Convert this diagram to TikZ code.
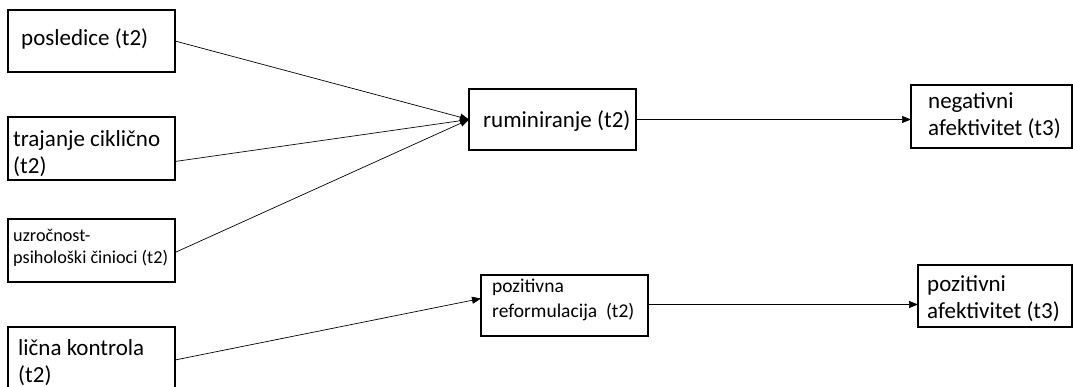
\documentclass[tikz,border=0pt]{standalone}
\usepackage{fontspec}
\setmainfont{Carlito}
\usetikzlibrary{arrows.meta}

\begin{document}
\begin{tikzpicture}[x=1pt,y=-1pt,
		box/.style={draw,line width=1.3pt,anchor=north west,inner sep=0pt,outer sep=0pt},
		lbl/.style={anchor=base west,inner sep=0pt,align=left,font=\fontsize{23}{27}\selectfont},
		small/.style={lbl,font=\fontsize{18.2}{22}\selectfont},
		arr/.style={-{Triangle[length=9pt,width=7pt]},line width=0.7pt}]
			\fill[white] (0,0) rectangle (1073,387);
			\useasboundingbox (0,0) rectangle (1073,387);
			% predictors (t2), labels placed by their last baseline
			\node[box,minimum width=167pt,minimum height=62pt] (posl) at (8,10) {};
			\node[lbl] (posl-l) at (21,46) {posledice (t2)};
			\node[box,minimum width=167pt,minimum height=63pt] (traj) at (8,117) {};
			\node[lbl] (traj-l) at (13,174) {trajanje ciklično\\(t2)};
			\node[box,minimum width=167pt,minimum height=63pt] (uzro) at (8,219) {};
			\node[small] (uzro-l) at (13,264) {uzročnost-\\psihološki činioci (t2)};
			\node[box,minimum width=167pt,minimum height=66pt] (licna) at (8,327) {};
			\node[lbl] (licna-l) at (18,382) {lična kontrola\\(t2)};
			% mediators (t2)
			\node[box,minimum width=167pt,minimum height=61pt] (rum) at (469,89) {};
			\node[lbl] (rum-l) at (483,128) {ruminiranje (t2)};
			\node[box,minimum width=167pt,minimum height=61pt] (pref) at (481,275) {};
			\node[lbl,font=\fontsize{19.5}{25}\selectfont] (pref-l) at (492,317) {pozitivna\\reformulacija\ \ (t2)};
			% outcomes (t3)
			\node[box,minimum width=161pt,minimum height=63pt] (neg) at (911,85) {};
			\node[lbl] (neg-l) at (928,136) {negativni\\afektivitet (t3)};
			\node[box,minimum width=154pt,minimum height=62pt] (pafk) at (918,265) {};
			\node[lbl] (pafk-l) at (927,318) {pozitivni\\afektivitet (t3)};
			% paths
			\draw[arr] (posl.east) -- (rum.west);
			\draw[arr] ([yshift=-13pt]traj.east) -- (rum.west);
			\draw[arr] ([yshift=-2pt]uzro.east) -- (rum.west);
			\draw[arr] (rum.east) -- (rum.east -| neg.west);
			\draw[arr] (licna.east) -- ([yshift=7pt]pref.west);
			\draw[arr] ([yshift=1pt]pref.east) -- ([yshift=1pt]pref.east -| pafk.west);
		\end{tikzpicture}
\end{document}
